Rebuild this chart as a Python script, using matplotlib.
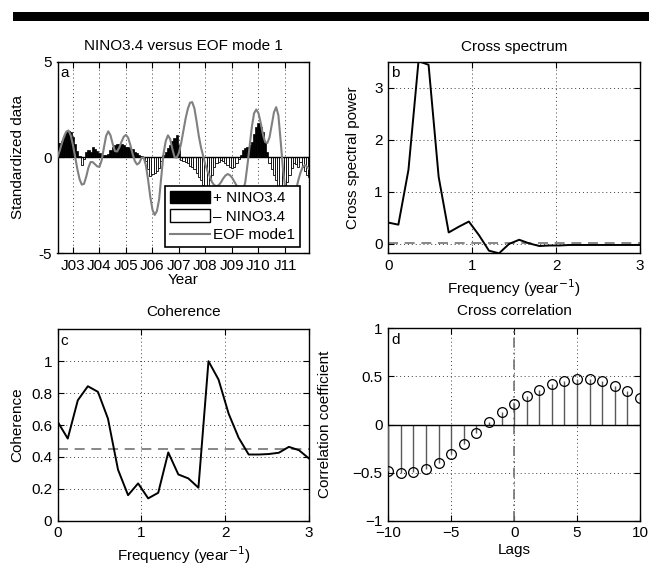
import numpy as np
import matplotlib
matplotlib.use('Agg')
import matplotlib.pyplot as plt
from matplotlib.patches import Patch, Rectangle
from matplotlib.lines import Line2D

plt.rcParams['font.family'] = ['Liberation Sans', 'DejaVu Sans']
plt.rcParams['font.size'] = 11

# ---------------- data ----------------
# Panel a: monthly series, Jun 2002 - Dec 2011
start_year, start_month = 2002, 6
nino34 = [0.75, 0.75, 0.85, 1.05, 1.3, 1.4, 1.3, 1.05, 0.7, 0.35,
          0.05, -0.4, -0.1, 0.3, 0.4, 0.3, 0.55, 0.45, 0.35, 0.25,
          0.1, 0.1, 0.15, 0.2, 0.4, 0.55, 0.65, 0.72, 0.72, 0.68,
          0.65, 0.55, 0.52, 0.47, 0.42, 0.3, 0.25, 0.12, 0.08, 0.0,
          -0.2, -0.6, -0.95, -0.85, -0.8, -0.7, -0.55, -0.2, 0.1, 0.3,
          0.5, 0.65, 0.85, 1.0, 1.15, 0.65, -0.15, -0.2, -0.25, -0.3,
          -0.45, -0.5, -0.6, -0.8, -1.0, -1.2, -1.45, -1.7, -1.6, -1.2,
          -0.9, -0.5, -0.3, -0.25, -0.15, -0.2, -0.3, -0.4, -0.5, -0.55,
          -0.5, -0.3, -0.1, 0.15, 0.4, 0.5, 0.55, 0.65, 0.8, 1.2,
          1.6, 1.8, 1.6, 1.3, 0.8, 0.3, -0.3, -0.6, -0.9, -1.2,
          -1.5, -1.7, -1.8, -1.6, -1.3, -0.9, -0.55, -0.3, -0.35, -0.5,
          -0.25, -0.5, -0.7, -0.9, -1.0]
eof1 = [0.0, 0.35, 0.75, 1.1, 1.35, 1.4, 1.14, 0.64, 0.02, -0.62,
        -1.14, -1.42, -1.38, -1.01, -0.53, -0.24, -0.25, -0.36, -0.47, -0.49,
        -0.15, 0.5, 1.12, 1.36, 1.15, 0.70, 0.33, 0.31, 0.52, 0.82,
        1.08, 1.17, 1.02, 0.64, 0.19, -0.19, -0.37, -0.29, -0.04, 0.0,
        -0.41, -1.15, -2.05, -2.73, -3.0, -2.8, -2.2, -1.0, 0.2, 0.85,
        1.15, 0.96, 0.44, 0.01, -0.01, 0.25, 0.75, 1.39, 2.03, 2.53,
        2.85, 2.88, 2.55, 1.85, 1.1, 0.5, 0.05, -0.4, -0.75, -1.0,
        -1.3, -1.45, -1.5, -1.45, -1.3, -1.1, -0.95, -0.87, -0.92, -1.05,
        -1.25, -1.45, -1.7, -1.9, -1.75, -1.3, -0.4, 0.6, 1.6, 2.3,
        2.5, 2.3, 1.8, 1.2, 0.8, 0.75, 1.05, 1.7, 2.35, 2.62,
        2.2, 0.9, -0.5, -1.5, -2.2, -2.5, -2.5, -2.2, -1.7, -1.2,
        -0.8, -0.5, -0.4, -0.5, -0.6]
year_ticks = [2003, 2004, 2005, 2006, 2007, 2008, 2009, 2010, 2011]
year_labels = ['J03', 'J04', 'J05', 'J06', 'J07', 'J08', 'J09', 'J10', 'J11']

# Panels b, c: spectra
freq_step = 0.12
cross_power = [0.41, 0.37, 1.42, 3.51, 3.44, 1.29, 0.22, 0.33, 0.43, 0.17,
               -0.13, -0.18, 0.0, 0.08, 0.01, -0.04, -0.03, -0.03, -0.02, -0.02,
               -0.02, -0.02, -0.02, -0.02, -0.02, -0.02]
power_ref = 0.01
coherence = [0.62, 0.515, 0.755, 0.843, 0.808, 0.64, 0.32, 0.16, 0.234, 0.14,
             0.175, 0.428, 0.29, 0.265, 0.207, 1.0, 0.885, 0.672, 0.52, 0.415,
             0.415, 0.418, 0.426, 0.463, 0.442, 0.39]
coh_sig = 0.45

# Panel d: cross correlation
lags = list(range(-10, 11))
xcorr = [-0.485, -0.50, -0.495, -0.46, -0.40, -0.31, -0.205, -0.093, 0.024, 0.13,
         0.218, 0.298, 0.363, 0.419, 0.457, 0.474, 0.471, 0.45, 0.405, 0.35, 0.28]

# ---------------- figure ----------------
W, H = 649, 565
fig = plt.figure(figsize=(W / 100, H / 100), dpi=100)


def px_axes(l, t, r, b):
    return fig.add_axes([l / W, 1 - b / H, (r - l) / W, (b - t) / H])


fig.patches.append(Rectangle((13 / W, 1 - 21 / H), 1 - 13 / W, 9 / H,
                             transform=fig.transFigure, facecolor='k',
                             edgecolor='none'))

grid_kw = dict(color='0.25', linestyle=(0, (1, 3)), linewidth=0.7)


def style(ax):
    ax.tick_params(direction='in', length=4, width=0.8, top=True, right=True,
                   labelsize=11, pad=4)
    for s in ax.spines.values():
        s.set_linewidth(1.0)


def labels(ax, title, xlabel, ylabel, tb, xly, ylx):
    ax.set_title(title, fontsize=11, y=tb, va='baseline', pad=0)
    ax.set_xlabel(xlabel, fontsize=11, va='center')
    ax.xaxis.set_label_coords(0.5, xly)
    ax.set_ylabel(ylabel, fontsize=11, va='center')
    ax.yaxis.set_label_coords(ylx, 0.5)


# ---- panel a ----
ax = px_axes(57.5, 61.5, 309.3, 253.3)
n = len(nino34)
t = np.array([start_year + (start_month - 1 + i) / 12 for i in range(n)])
v = np.array(nino34)
pos = np.where(v > 0, v, 0)
neg = np.where(v < 0, v, 0)
ax.bar(t, pos, width=1 / 12, color='k', edgecolor='k', linewidth=0.5, zorder=2)
ax.bar(t, neg, width=1 / 12, color='w', edgecolor='k', linewidth=0.6, zorder=2)
ax.axhline(0, color='k', linewidth=1.0, zorder=3)
ax.plot(t, eof1, color='0.5', linewidth=1.5, zorder=4)
ax.set_xlim(t[0], t[-1])
ax.set_ylim(-5, 5)
ax.set_xticks(year_ticks)
ax.set_xticklabels(year_labels)
ax.set_yticks([-5, 0, 5])
ax.set_yticklabels(['-5', '0', '5'])
for yt in year_ticks:
    ax.axvline(yt, zorder=1, **grid_kw)
style(ax)
labels(ax, 'NINO3.4 versus EOF mode 1', 'Year', 'Standardized data',
       1.058, -0.139, -0.155)
ax.text(0.012, 0.975, 'a', transform=ax.transAxes, va='top', ha='left')
handles = [Patch(facecolor='k', edgecolor='k'),
           Patch(facecolor='w', edgecolor='k'),
           Line2D([], [], color='0.5', linewidth=1.5)]
leg = ax.legend(handles, ['+ NINO3.4', '\u2013 NINO3.4', 'EOF mode1'],
                loc='lower right', bbox_to_anchor=(0.963, 0.033),
                borderaxespad=0, fancybox=False, framealpha=1,
                edgecolor='k', fontsize=11, handlelength=2.6,
                handleheight=0.85, handletextpad=0.25, labelspacing=0.28,
                borderpad=0.3)
leg.get_frame().set_linewidth(1.2)
leg.set_zorder(10)

# ---- panel b ----
ax = px_axes(388.3, 61.7, 640, 253.3)
f = np.arange(len(cross_power)) * freq_step
ax.plot(f, cross_power, color='k', linewidth=1.4, zorder=3)
ax.axhline(power_ref, color='0.45', linestyle=(0, (6, 4)), linewidth=1.2, zorder=2)
ax.set_xlim(0, 3)
ax.set_ylim(-0.18, 3.5)
ax.set_xticks([0, 1, 2, 3])
ax.set_yticks([0, 1, 2, 3])
ax.grid(True, **grid_kw)
ax.set_axisbelow(True)
style(ax)
labels(ax, 'Cross spectrum', 'Frequency (year$^{-1}$)', 'Cross spectral power',
       1.058, -0.183, -0.14)
ax.text(0.012, 0.975, 'b', transform=ax.transAxes, va='top', ha='left')

# ---- panel c ----
ax = px_axes(57.7, 329.3, 309, 520.7)
f = np.arange(len(coherence)) * freq_step
ax.plot(f, coherence, color='k', linewidth=1.4, zorder=3)
ax.axhline(coh_sig, color='0.45', linestyle=(0, (6, 4)), linewidth=1.2, zorder=2)
ax.set_xlim(0, 3)
ax.set_ylim(0, 1.2)
ax.set_xticks([0, 1, 2, 3])
ax.set_yticks([0, 0.2, 0.4, 0.6, 0.8, 1.0])
ax.set_yticklabels(['0', '0.2', '0.4', '0.6', '0.8', '1'])
ax.grid(True, **grid_kw)
ax.set_axisbelow(True)
style(ax)
labels(ax, 'Coherence', 'Frequency (year$^{-1}$)', 'Coherence',
       1.067, -0.178, -0.16)
ax.text(0.012, 0.975, 'c', transform=ax.transAxes, va='top', ha='left')

# ---- panel d ----
ax = px_axes(388.3, 328.3, 640, 520.7)
ax.vlines(lags, 0, xcorr, color='0.35', linewidth=1.0, zorder=3)
ax.plot(lags, xcorr, linestyle='none', marker='o', markersize=7,
        markerfacecolor='none', markeredgecolor='k', markeredgewidth=0.9, zorder=4)
ax.axhline(0, color='k', linewidth=1.0, zorder=3)
ax.axvline(0, color='0.45', linestyle=(0, (6, 3, 1, 3)), linewidth=1.2, zorder=2)
ax.set_xlim(-10, 10)
ax.set_ylim(-1, 1)
ax.set_xticks([-10, -5, 0, 5, 10])
ax.set_yticks([-1, -0.5, 0, 0.5, 1])
ax.set_yticklabels(['\u22121', '\u22120.5', '0', '0.5', '1'])
ax.grid(True, **grid_kw)
ax.set_axisbelow(True)
style(ax)
labels(ax, 'Cross correlation', 'Lags', 'Correlation coefficient',
       1.067, -0.152, -0.25)
ax.text(0.012, 0.975, 'd', transform=ax.transAxes, va='top', ha='left')

fig.savefig('out.png', dpi=100)
